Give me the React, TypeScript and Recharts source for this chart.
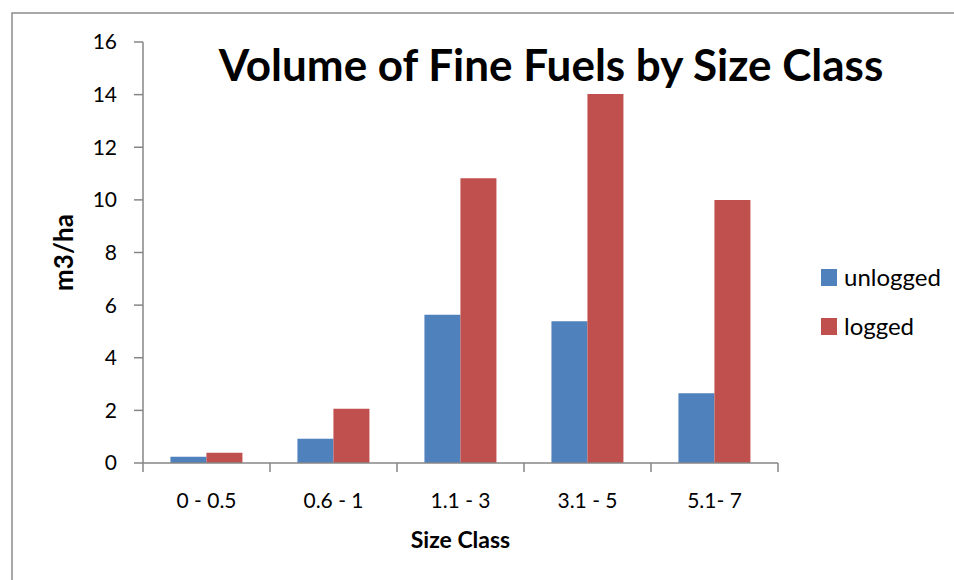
import { BarChart, Bar, XAxis, YAxis, Legend } from 'recharts';

const categories = ['0 - 0.5', '0.6 - 1', '1.1 - 3', '3.1 - 5', '5.1- 7'];
const unlogged = [0.24, 0.92, 5.63, 5.39, 2.65];
const logged = [0.39, 2.06, 10.82, 14.02, 10.0];
const yTicks = [0, 2, 4, 6, 8, 10, 12, 14, 16];
const seriesOrder = ['unlogged', 'logged'];

const data = categories.map((size, i) => ({ size, unlogged: unlogged[i], logged: logged[i] }));

const W = 954;
const H = 580;
const MARGIN = { top: 42, right: 176, bottom: 0, left: 0 };
const Y_AXIS_W = 143;
const X_AXIS_H = 117;
const PLOT_W = W - MARGIN.left - MARGIN.right - Y_AXIS_W;
const HALF_BAND = PLOT_W / categories.length / 2;

const FONT = 'Lato, "Open Sans", sans-serif';
const AXIS = '#868686';

const XTick = ({ x, y, payload, index }: { x: number; y: number; payload: { value: string }; index: number }) => (
  <g>
    <line x1={x - HALF_BAND} x2={x - HALF_BAND} y1={y} y2={y + 9} stroke={AXIS} strokeWidth={1.5} />
    {index === categories.length - 1 && (
      <line x1={x + HALF_BAND} x2={x + HALF_BAND} y1={y} y2={y + 9} stroke={AXIS} strokeWidth={1.5} />
    )}
    <text x={x} y={y + 45} textAnchor="middle" fontSize={21} fontFamily={FONT} fill="#000">
      {payload.value}
    </text>
  </g>
);

const LegendBox = ({ payload }: { payload?: Array<{ value: string; color: string }> }) => {
  const items = [...(payload || [])].sort((a, b) => seriesOrder.indexOf(a.value) - seriesOrder.indexOf(b.value));
  return (
    <div style={{ fontFamily: FONT, fontSize: 24, color: '#000' }}>
      {items.map((p) => (
        <div key={p.value} style={{ display: 'flex', alignItems: 'center', height: 18, marginBottom: 31 }}>
          <span style={{ width: 16, height: 17, background: p.color, display: 'inline-block', marginRight: 7, flexShrink: 0 }} />
          <span style={{ lineHeight: '18px', whiteSpace: 'nowrap' }}>{p.value}</span>
        </div>
      ))}
    </div>
  );
};

const YLabel = ({ viewBox }: { viewBox?: { x: number; y: number; width: number; height: number } }) => {
  const cy = viewBox ? viewBox.y + viewBox.height / 2 : 252;
  return (
    <text
      x={63} y={cy} transform={`rotate(-90, 63, ${cy})`}
      textAnchor="middle" dominantBaseline="central"
      fontSize={26} fontWeight={700} fontFamily={FONT} fill="#000"
    >
      m3/ha
    </text>
  );
};

export default function App() {
  return (
    <div style={{ position: 'fixed', left: 0, top: 0, width: W, height: H, overflow: 'hidden', background: '#fff' }}>
      <BarChart width={W} height={H} data={data} margin={MARGIN} barGap={0} barCategoryGap="21.6%">
        <XAxis
          dataKey="size" height={X_AXIS_H} stroke={AXIS} strokeWidth={1.5}
          tickLine={false} tickSize={0} tickMargin={0} tick={XTick} interval={0}
          label={{ value: 'Size Class', position: 'insideBottom', offset: 32, fontSize: 23, fontWeight: 700, fontFamily: FONT, fill: '#000' }}
        />
        <YAxis
          width={Y_AXIS_W} domain={[0, 16]} ticks={yTicks} stroke={AXIS} strokeWidth={1.5}
          tickSize={9} tickMargin={17}
          tick={{ fontSize: 21, fontFamily: FONT, fill: '#000' }}
          label={{ content: YLabel }}
        />
        <Legend
          layout="horizontal" verticalAlign="middle" align="center"
          content={<LegendBox />}
          wrapperStyle={{ left: 821, top: 268, width: 130, height: 100 }}
        />
        <Bar dataKey="unlogged" name="unlogged" fill="#4F81BD" isAnimationActive={false} />
        <Bar dataKey="logged" name="logged" fill="#C0504D" isAnimationActive={false} />
      </BarChart>
      <svg width={W} height={H} style={{ position: 'absolute', left: 0, top: 0, pointerEvents: 'none' }}>
        <rect x={12} y={13} width={1000} height={1000} fill="none" stroke="#8c8c8c" strokeWidth={1.5} />
        <text x={551} y={81} textAnchor="middle" fontSize={44} fontWeight={700} fontFamily={FONT} fill="#000">
          Volume of Fine Fuels by Size Class
        </text>
      </svg>
    </div>
  );
}
